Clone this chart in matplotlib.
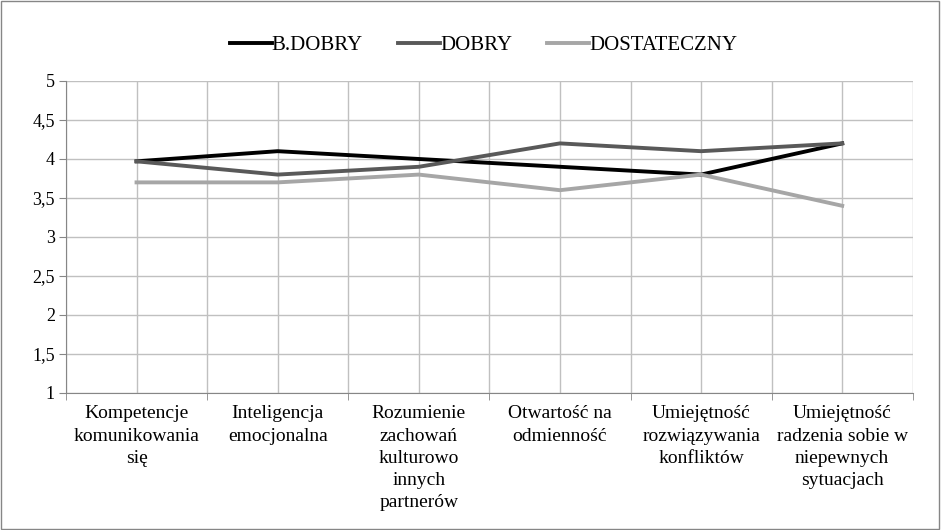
import numpy as np
import matplotlib.pyplot as plt
from matplotlib.patches import Rectangle

categories = ['Kompetencje\nkomunikowania\nsię', 'Inteligencja\nemocjonalna',
              'Rozumienie\nzachowań\nkulturowo\ninnych\npartnerów',
              'Otwartość na\nodmienność', 'Umiejętność\nrozwiązywania\nkonfliktów',
              'Umiejętność\nradzenia sobie w\nniepewnych\nsytuacjach']
b_dobry = [3.97, 4.1, 4.0, 3.9, 3.8, 4.2]
dobry = [3.97, 3.8, 3.9, 4.2, 4.1, 4.2]
dostateczny = [3.7, 3.7, 3.8, 3.6, 3.8, 3.4]
y_ticks = [1, 1.5, 2, 2.5, 3, 3.5, 4, 4.5, 5]


def main():
    plt.rcParams['font.family'] = ['Liberation Serif', 'DejaVu Serif']
    fig = plt.figure(figsize=(9.41, 5.3), dpi=100)
    ax = fig.add_axes([0.0701, 0.2585, 0.8999, 0.5887])

    x = np.arange(len(categories))
    ax.plot(x, b_dobry, color='black', lw=2.8, label='B.DOBRY', zorder=3)
    ax.plot(x, dobry, color='#595959', lw=2.8, label='DOBRY', zorder=3)
    ax.plot(x, dostateczny, color='#a6a6a6', lw=2.8, label='DOSTATECZNY', zorder=3)

    ax.set_xlim(-0.5, len(categories) - 0.5)
    ax.set_ylim(1, 5)
    ax.set_yticks(y_ticks)
    ax.set_yticklabels([f'{v:g}'.replace('.', ',') for v in y_ticks], fontsize=13)
    ax.set_xticks(x)
    ax.set_xticklabels(categories, fontsize=14, linespacing=1.4)
    ax.set_xticks(np.arange(-0.5, len(categories), 1.0), minor=True)
    ax.tick_params(axis='x', which='major', length=0, pad=9)
    ax.tick_params(axis='x', which='minor', length=5, color='#868686')
    ax.tick_params(axis='y', length=5, color='#868686', pad=3)
    ax.grid(True, which='both', axis='x', color='#c0c0c0', lw=1)
    ax.grid(True, which='major', axis='y', color='#c0c0c0', lw=1)
    ax.set_axisbelow(True)
    for side in ['top', 'right']:
        ax.spines[side].set_visible(False)
    for side in ['left', 'bottom']:
        ax.spines[side].set_color('#868686')

    fig.legend(loc='center', bbox_to_anchor=(0.514, 0.915), ncol=3, frameon=False,
               fontsize=15, handlelength=2.0, handletextpad=0.0, columnspacing=1.7)
    fig.patches.append(Rectangle((0.001, 0.001), 0.997, 0.997, transform=fig.transFigure,
                                 fill=False, edgecolor='#868686', lw=1))
    fig.savefig('out.png', dpi=100)


if __name__ == '__main__':
    main()
